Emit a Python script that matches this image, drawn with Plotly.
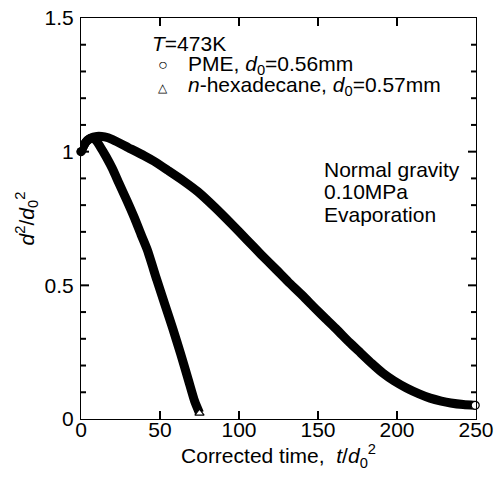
import plotly.graph_objects as go

# ---- data ----
pme_t = [0, 3, 6, 10, 15, 20, 30, 40, 46, 55, 65, 74, 85, 96, 105, 114, 123, 131,
         140, 148, 155, 162, 170, 177, 184, 191, 198, 206, 214, 221, 228, 234, 242, 249.5]
pme_d = [1.00, 1.035, 1.05, 1.057, 1.055, 1.045, 1.015, 0.985, 0.965, 0.93, 0.89, 0.85,
         0.79, 0.725, 0.67, 0.615, 0.562, 0.514, 0.463, 0.415, 0.374, 0.334, 0.286, 0.247,
         0.208, 0.172, 0.143, 0.116, 0.094, 0.078, 0.067, 0.060, 0.054, 0.051]

hex_t = [0, 3, 6, 9, 12, 16, 20, 24, 29, 34, 38, 42, 48, 53, 58, 63, 68, 72, 75]
hex_d = [1.00, 1.035, 1.05, 1.045, 1.02, 0.98, 0.935, 0.882, 0.818, 0.75, 0.69, 0.632,
         0.52, 0.43, 0.34, 0.245, 0.145, 0.065, 0.022]

x_ticks = [0, 50, 100, 150, 200, 250]
y_ticks = [0, 0.5, 1, 1.5]
y_minor = [0.1, 0.2, 0.3, 0.4, 0.6, 0.7, 0.8, 0.9, 1.1, 1.2, 1.3, 1.4]

FONT = "Arial, Liberation Sans, sans-serif"
FS = 21
W, H = 500, 479
L, R, T, B = 81, 24, 18, 60

def px_x(p):
    return (p - L) / (W - L - R)

def px_y(p):
    return (H - B - p) / (H - T - B)

fig = go.Figure()

def band(t, d, end_symbol):
    fig.add_trace(go.Scatter(
        x=t, y=d, mode="lines", line=dict(color="black", width=9, shape="spline", smoothing=0.6),
        cliponaxis=False, showlegend=False, hoverinfo="skip"))
    fig.add_trace(go.Scatter(
        x=t[:1], y=d[:1], mode="markers",
        marker=dict(symbol="circle", size=9, color="black"),
        cliponaxis=False, showlegend=False, hoverinfo="skip"))
    fig.add_trace(go.Scatter(
        x=t[-1:], y=d[-1:], mode="markers",
        marker=dict(symbol=end_symbol, size=8, color="white",
                    line=dict(color="black", width=1.2)),
        cliponaxis=False, showlegend=False, hoverinfo="skip"))

band(hex_t, hex_d, "triangle-up")
band(pme_t, pme_d, "circle")

axis_common = dict(
    showline=True, linecolor="black", linewidth=1.2, mirror=True, ticks="",
    showgrid=False, zeroline=False, automargin=False,
    tickfont=dict(family=FONT, size=FS, color="black"),
)

fig.update_xaxes(range=[0, 250], tickvals=x_ticks, ticklabelstandoff=-8,
                 title=dict(text="Corrected time,  <i>t</i>/<i>d</i><sub>0</sub><sup>2</sup>",
                            font=dict(family=FONT, size=FS, color="black"), standoff=2),
                 **axis_common)
fig.update_yaxes(range=[0, 1.5], tickvals=y_ticks, ticklabelstandoff=2,
                 title=dict(text="<i>d</i><sup>2</sup>/<i>d</i><sub>0</sub><sup>2</sup>",
                            font=dict(family=FONT, size=FS, color="black"), standoff=4),
                 **axis_common)

# inside tick marks (bottom/top and left/right), drawn as pixel-length shapes
tick_line = dict(color="black", width=2)
for v in x_ticks[1:-1]:
    for anchor, sgn in ((0, 1), (1, -1)):
        fig.add_shape(type="line", xref="x", yref="paper", x0=v, x1=v,
                      ysizemode="pixel", yanchor=anchor, y0=0, y1=8 * sgn,
                      line=tick_line, layer="above")
for vals, ln in ((y_ticks[1:-1], 8), (y_minor, 5)):
    for v in vals:
        for anchor, sgn in ((0, 1), (1, -1)):
            fig.add_shape(type="line", yref="y", xref="paper", y0=v, y1=v,
                          xsizemode="pixel", xanchor=anchor, x0=0, x1=ln * sgn,
                          line=tick_line, layer="above")

def note(text, xpx, ypx, size=FS, xanchor="left"):
    fig.add_annotation(text=text, xref="paper", yref="paper", x=px_x(xpx), y=px_y(ypx),
                       xanchor=xanchor, yanchor="middle", showarrow=False,
                       font=dict(family=FONT, size=size, color="black"))

note("<i>T</i>=473K", 150, 43)
note("○", 162.5, 64.5, size=16, xanchor="center")
note("PME, <i>d</i><sub>0</sub>=0.56mm", 186, 64.5)
note("△", 163, 87.5, size=12, xanchor="center")
note("<i>n</i>-hexadecane, <i>d</i><sub>0</sub>=0.57mm", 186, 86.5)

note("Normal gravity", 322, 169)
note("0.10MPa", 322, 191)
note("Evaporation", 322, 214)

fig.update_layout(
    template="none",
    width=W, height=H,
    margin=dict(l=L, r=R, t=T, b=B, pad=0),
    paper_bgcolor="white", plot_bgcolor="white",
    font=dict(family=FONT, size=FS, color="black"),
)

fig.write_html("out.html", post_script="document.body.style.margin='0px';",
               config={"displayModeBar": False})
